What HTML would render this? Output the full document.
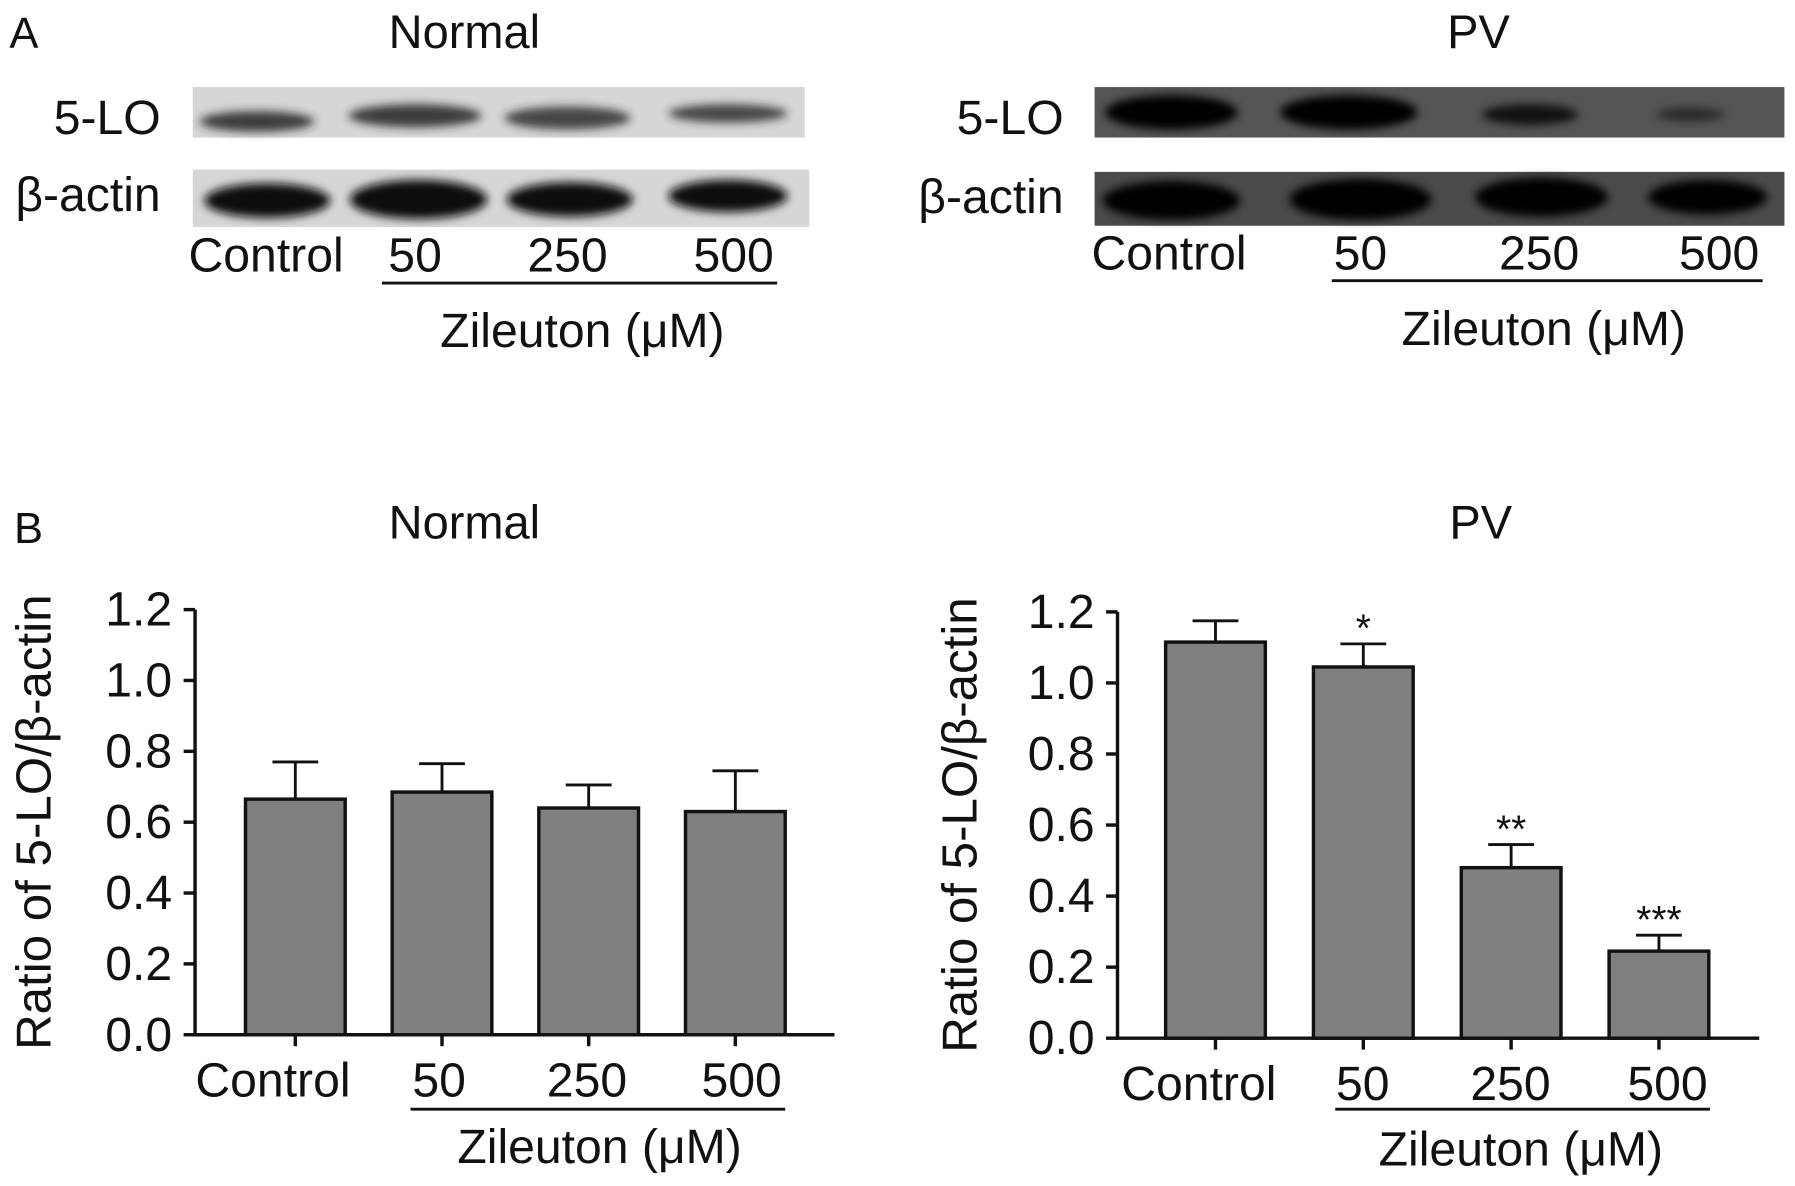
<!DOCTYPE html>
<html><head><meta charset="utf-8"><style>
html,body{margin:0;padding:0;background:#fff;}
svg{display:block;}
text{font-family:"Liberation Sans",sans-serif;fill:#111;}
</style></head><body>
<svg id="fig" width="1795" height="1186" viewBox="0 0 1566 1035" xmlns="http://www.w3.org/2000/svg">
<defs>
<filter id="blur" x="-20%" y="-50%" width="140%" height="200%"><feGaussianBlur stdDeviation="4"/></filter>
</defs>
<g id="panelA">
<text x="8" y="42" font-size="38">A</text>
<text x="405" y="42" font-size="41" text-anchor="middle">Normal</text>
<text x="1290" y="42" font-size="41" text-anchor="middle">PV</text>
<text x="140" y="117" font-size="42" text-anchor="end">5-LO</text>
<text x="140" y="184" font-size="42" text-anchor="end">β-actin</text>
<text x="928" y="117" font-size="42" text-anchor="end">5-LO</text>
<text x="928" y="186" font-size="42" text-anchor="end">β-actin</text>
<g id="blots"></g>
</g>
<g id="chartL"></g>
<g id="chartR"></g>
<text x="12" y="474" font-size="38">B</text>
<text x="405" y="470" font-size="41" text-anchor="middle">Normal</text>
<text x="1292" y="470" font-size="41" text-anchor="middle">PV</text>
</svg>
<script>
const categories = ["Control","50","250","500"];
const normalValues = [0.665,0.685,0.64,0.63];
const normalErrors = [0.105,0.08,0.065,0.115];
const pvValues = [1.115,1.045,0.48,0.245];
const pvErrors = [0.06,0.065,0.065,0.045];
const pvStars = ["","*","**","***"];
const yTicks = ["0.0","0.2","0.4","0.6","0.8","1.0","1.2"];
const NS="http://www.w3.org/2000/svg";
function mk(tag,attrs,parent,txt){const e=document.createElementNS(NS,tag);for(const k in attrs)e.setAttribute(k,attrs[k]);if(txt!==undefined)e.textContent=txt;parent.appendChild(e);return e;}

const blots=document.getElementById('blots');
function blot(x0,x1,y0,y1,bg,lanes,dark,name){
  const g=mk('g',{},blots);
  
  
  mk('rect',{x:x0,y:y0,width:x1-x0,height:y1-y0,fill:bg},g);
  lanes.forEach(l=>{mk('ellipse',{cx:l[0],cy:l[1],rx:l[2],ry:l[3],fill:dark,opacity:l[4],filter:'url(#blur)'},g);});
}
blot(168,702,76,120,'#d6d6d6',[[224,106,50,9,0.85],[362,101,58,10,0.85],[495,103,55,10,0.8],[635,99,52,8,0.8]],'#222','normal-5lo-blot');
blot(168,706,148,198,'#d6d6d6',[[233,175,55,15,1],[365,174,60,17,1],[497,174,55,15,1],[635,171,52,14,1]],'#111','normal-actin-blot');
blot(955,1557,76,120,'#555',[[1022,98,58,15,1],[1177,98,60,15,1],[1335,100,42,9,0.8],[1475,100,30,6,0.5]],'#000','pv-5lo-blot');
blot(955,1557,150,197,'#4a4a4a',[[1022,175,60,17,1],[1187,174,62,18,1],[1345,172,58,17,1],[1490,172,52,15,1]],'#000','pv-actin-blot');
const gA=document.getElementById('panelA');
function lanes(parent,xs,y,ux0,ux1,uy,zx,zy,pfx){
  categories.forEach((c,i)=>{const t=mk('text',{x:xs[i],y:y,'font-size':42,'text-anchor':'middle'},parent,c);
    
    });
  const l=mk('line',{x1:ux0,x2:ux1,y1:uy,y2:uy,stroke:'#111','stroke-width':2.5},parent);
  
  
  const z=mk('text',{x:zx,y:zy,'font-size':42,'text-anchor':'middle'},parent,'Zileuton (μM)');
  
  
}
lanes(gA,[232,362,495,640],237,333,678,247,508,303,'normal-blot');
lanes(gA,[1020,1187,1343,1500],235,1162,1538,245,1347,301,'pv-blot');

function chart(gid,ax,yTop,y0,xEnd,bx,bw,vals,errs,stars,lx,ux0,ux1,uy,zx,zy,ytx,pfx){
  const g=document.getElementById(gid);
  const ys=v=>y0-(v/1.2)*(y0-yTop);
  mk('line',{x1:ax,x2:ax,y1:yTop,y2:y0,stroke:'#111','stroke-width':3},g);
  mk('line',{x1:ax-2,x2:xEnd,y1:y0,y2:y0,stroke:'#111','stroke-width':3},g);
  yTicks.forEach(t=>{const y=ys(parseFloat(t));
    mk('line',{x1:ax-10,x2:ax,y1:y,y2:y,stroke:'#111','stroke-width':3},g);
    const tx=mk('text',{x:ax-20,y:y+14,'font-size':42,'text-anchor':'end'},g,t);
    
    });
  vals.forEach((v,i)=>{const x=bx[i],cx=x+bw/2;
    const top=ys(v+errs[i]);
    const e=mk('path',{d:`M${cx},${ys(v)}V${top}M${cx-20},${top}H${cx+20}`,stroke:'#111','stroke-width':2.5,fill:'none'},g);
    
    
    const r=mk('rect',{x:x,y:ys(v),width:bw,height:y0-ys(v),fill:'#808080',stroke:'#111','stroke-width':3},g);
    
    
    mk('line',{x1:cx,x2:cx,y1:y0,y2:y0+10,stroke:'#111','stroke-width':3},g);
    if(stars&&stars[i]){const s=mk('text',{x:cx,y:top-2,'font-size':34,'text-anchor':'middle'},g,stars[i]);
      
      }
  });
  lanes(g,lx,y0+54,ux0,ux1,uy,zx,zy,pfx);
  const yt=mk('text',{x:0,y:0,'font-size':43,'text-anchor':'middle',transform:`translate(${ytx},${(yTop+y0)/2}) rotate(-90)`},g,'Ratio of 5-LO/β-actin');
  
  
}
chart('chartL',170,532,903,728,[214,342,470,598],87,normalValues,normalErrors,null,[238,383,512,647],358,685,968,523,1015,44,'normal-chart');
chart('chartR',975,534,906,1535,[1017,1146,1275,1404],87,pvValues,pvErrors,pvStars,[1046,1189,1318,1455],1165,1492,968,1327,1017,852,'pv-chart');
</script>
</body></html>
